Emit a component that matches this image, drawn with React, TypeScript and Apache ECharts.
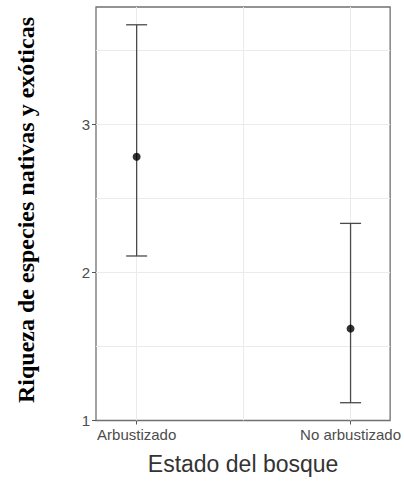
import React, { useEffect, useRef } from "react";
import * as echarts from "echarts";

const categories = ["Arbustizado", "No arbustizado"];
const means = [2.78, 1.62];
const lower = [2.11, 1.12];
const upper = [3.67, 2.33];
const yTicks = [1, 2, 3];
const xGrid = [1, 1.5, 2];
const yGrid = [1.5, 2, 2.5, 3, 3.5];

export default function App() {
  const ref = useRef<HTMLDivElement>(null);
  useEffect(() => {
    if (!ref.current) return;
    const chart = echarts.init(ref.current, undefined, { renderer: "svg" });
    const pos = categories.map((_, i) => i + 1);
    const option: any = {
      animation: false,
      backgroundColor: "#ffffff",
      grid: {
        left: 96,
        right: 9,
        top: 7,
        bottom: 61.5,
        show: true,
        borderColor: "#707070",
        borderWidth: 1.3,
        backgroundColor: "#ffffff",
        z: 0,
      },
      xAxis: {
        type: "value",
        min: 0.81,
        max: 2.185,
        splitLine: { show: false },
        axisLine: { show: false },
        axisTick: { show: true, customValues: pos, length: 4, lineStyle: { color: "#555" } },
        axisLabel: {
          customValues: pos,
          formatter: (v: number) => categories[Math.round(v) - 1] ?? "",
          color: "#4d4d4d",
          fontFamily: "Liberation Sans",
          fontSize: 15,
          margin: 6,
        },
        name: "Estado del bosque",
        nameLocation: "middle",
        nameGap: 32,
        nameTextStyle: { color: "#333", fontFamily: "Liberation Sans", fontSize: 23 },
      },
      yAxis: {
        type: "value",
        min: 1,
        max: 3.79,
        interval: 1,
        splitLine: { show: false },
        axisLine: { show: false },
        axisTick: { show: true, customValues: yTicks, length: 4, lineStyle: { color: "#555" } },
        axisLabel: {
          customValues: yTicks,
          formatter: (v: number) => (Number.isInteger(v) ? String(v) : ""),
          color: "#4d4d4d",
          fontFamily: "Liberation Sans",
          fontSize: 15,
          margin: 6,
        },
      },
      graphic: [
        {
          type: "text",
          x: 26,
          y: 210,
          rotation: Math.PI / 2,
          style: {
            text: "Riqueza de especies nativas y exóticas",
            fill: "#000",
            font: "bold 24px 'Liberation Serif'",
            align: "center",
            verticalAlign: "middle",
          },
        },
      ],
      series: [
        {
          type: "line",
          data: [],
          z: 1,
          silent: true,
          markLine: {
            silent: true,
            z: 1,
            symbol: "none",
            label: { show: false },
            lineStyle: { color: "#ebebeb", width: 1, type: "solid" },
            data: [
              ...xGrid.map((v) => ({ xAxis: v })),
              ...yGrid.map((v) => ({ yAxis: v })),
            ],
          },
        },
        {
          type: "custom",
          z: 10,
          data: pos.map((p, i) => [p, lower[i], upper[i]]),
          renderItem: (params: any, api: any) => {
            const x = api.value(0);
            const lo = api.coord([x, api.value(1)]);
            const hi = api.coord([x, api.value(2)]);
            const hw = 10.5;
            const style = { stroke: "#4a4a4a", lineWidth: 1.3 };
            return {
              type: "group",
              children: [
                { type: "line", shape: { x1: lo[0], y1: lo[1], x2: hi[0], y2: hi[1] }, style },
                { type: "line", shape: { x1: lo[0] - hw, y1: lo[1], x2: lo[0] + hw, y2: lo[1] }, style },
                { type: "line", shape: { x1: hi[0] - hw, y1: hi[1], x2: hi[0] + hw, y2: hi[1] }, style },
              ],
            };
          },
        },
        {
          type: "scatter",
          z: 11,
          symbol: "circle",
          symbolSize: 8,
          itemStyle: { color: "#000" },
          data: pos.map((p, i) => [p, means[i]]),
        },
      ],
    };
    chart.setOption(option);
    return () => chart.dispose();
  }, []);
  return <div ref={ref} style={{ width: 404, height: 482, position: "absolute", left: 0, top: 0 }} />;
}
